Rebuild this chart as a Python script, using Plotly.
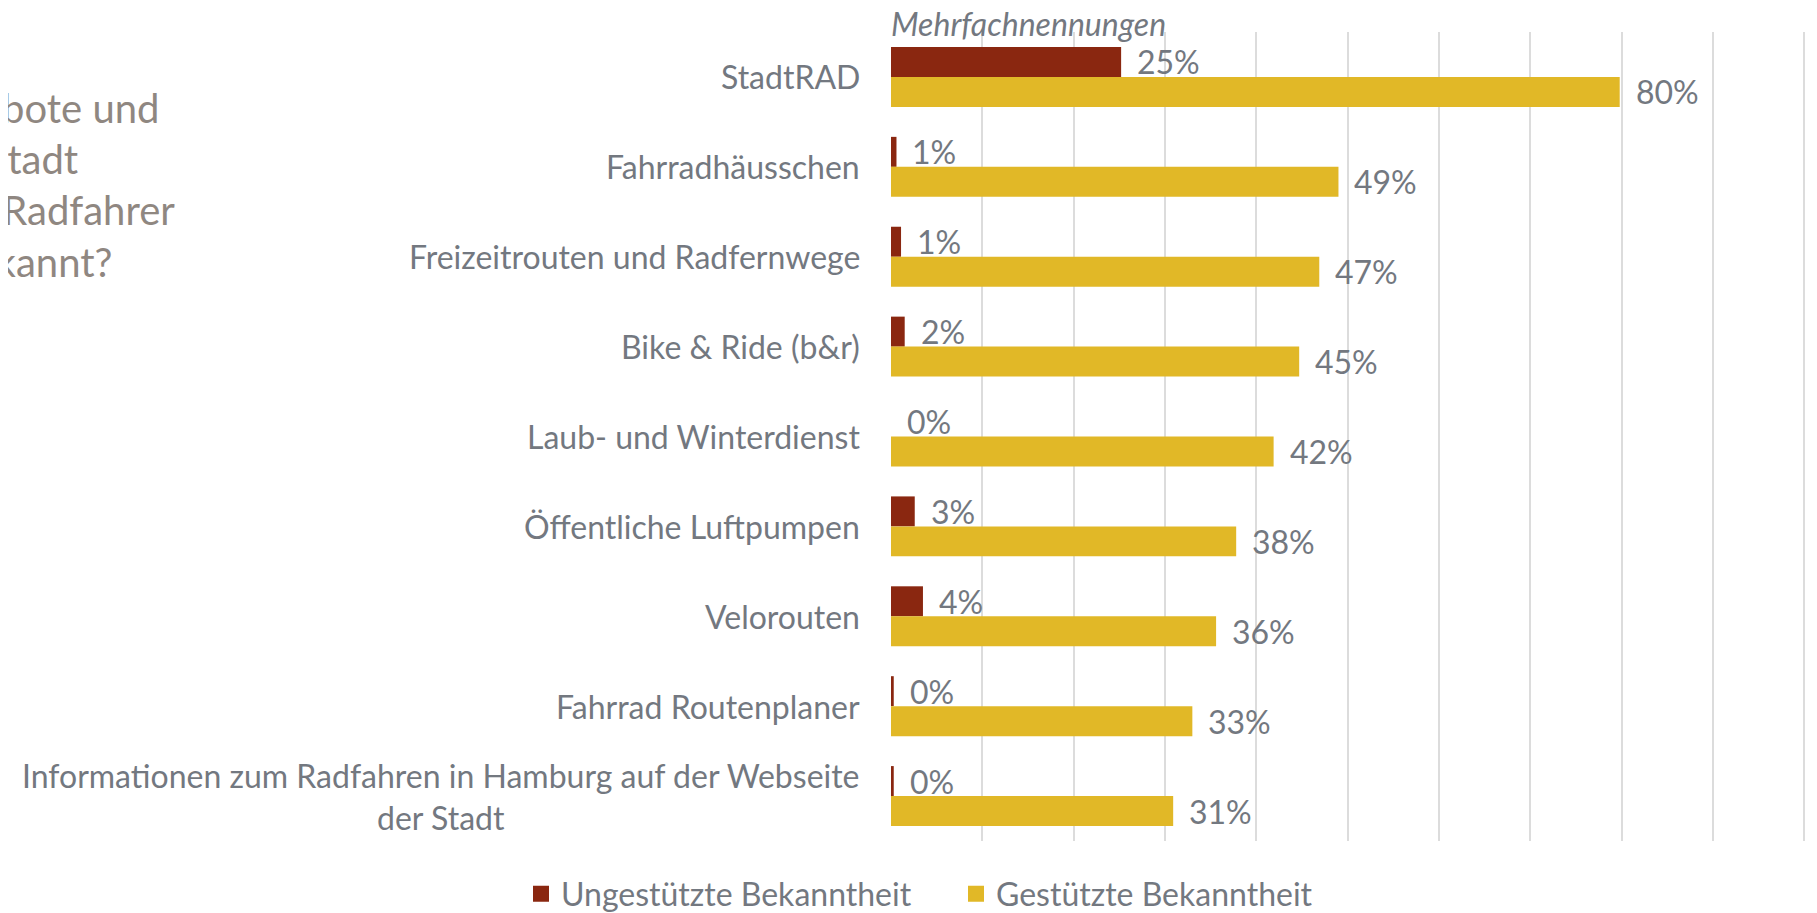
import plotly.graph_objects as go

categories = [
    "StadtRAD",
    "Fahrradhäusschen",
    "Freizeitrouten und Radfernwege",
    "Bike & Ride (b&r)",
    "Laub- und Winterdienst",
    "Öffentliche Luftpumpen",
    "Velorouten",
    "Fahrrad Routenplaner",
    "Informationen zum Radfahren in Hamburg auf der Webseite<br>der Stadt",
]
ungestuetzt = [25.2, 0.6, 1.1, 1.5, 0.0, 2.6, 3.5, 0.3, 0.3]
gestuetzt = [79.8, 49.0, 46.9, 44.7, 41.9, 37.8, 35.6, 33.0, 30.9]
series_names = ["Ungestützte Bekanntheit", "Gestützte Bekanntheit"]
title_lines = ["Welche Angebote und", "Services der Stadt", "für Radfahrer", "sind Ihnen bekannt?"]
note = "Mehrfachnennungen"

RED = "#8a2710"
YEL = "#e1b827"
LABEL = "#737880"
TITLE = "#8f8781"
FONT = "Lato"
FS = 32

# page has an 8px body margin; figure is sized to fit inside the window
W, H = 1801, 905
ML, MR, MT, MB = 883, 3, 24, 72
PW = W - ML - MR
PH = H - MT - MB

fig = go.Figure()
fig.add_trace(go.Bar(y=categories, x=ungestuetzt, orientation="h", name=series_names[0],
                     marker=dict(color=RED, line=dict(width=0)), showlegend=False))
fig.add_trace(go.Bar(y=categories, x=gestuetzt, orientation="h", name=series_names[1],
                     marker=dict(color=YEL, line=dict(width=0)), showlegend=False))
for nm, col in zip(series_names, [RED, YEL]):
    fig.add_trace(go.Scatter(x=[None], y=[None], mode="markers", name=nm,
                             marker=dict(symbol="square", size=17, color=col, line=dict(width=0))))

ann = []
for cat, v in zip(categories, ungestuetzt):
    ann.append(dict(x=v, y=cat, xref="x", yref="y", text=f"{round(v):.0f}%", showarrow=False,
                    xanchor="left", yanchor="middle", xshift=14, yshift=15,
                    font=dict(family=FONT, size=FS, color=LABEL)))
for cat, v in zip(categories, gestuetzt):
    ann.append(dict(x=v, y=cat, xref="x", yref="y", text=f"{round(v):.0f}%", showarrow=False,
                    xanchor="left", yanchor="middle", xshift=14, yshift=-15,
                    font=dict(family=FONT, size=FS, color=LABEL)))
for cat in categories:
    ann.append(dict(x=0, y=cat, xref="paper", yref="y", text=cat, showarrow=False,
                    xanchor="right", yanchor="middle", xshift=-29, align="center",
                    font=dict(family=FONT, size=FS, color=LABEL)))
ann.append(dict(x=0, y=(H - MB - 15) / PH, xref="paper", yref="paper", text=f"<i>{note}</i>",
                showarrow=False, xanchor="left", yanchor="middle", xshift=-2,
                font=dict(family=FONT, size=FS, color=LABEL)))
title_right = [153, 72, 169, 106]
title_y = [100, 151, 202, 254]
for line, rx, py in zip(title_lines, title_right, title_y):
    ann.append(dict(x=(rx - ML) / PW, y=(H - MB - py) / PH, xref="paper", yref="paper",
                    text=line, showarrow=False, xanchor="right", yanchor="middle",
                    font=dict(family=FONT, size=40, color=TITLE)))

fig.update_layout(
    width=W, height=H,
    margin=dict(l=ML, r=MR, t=MT, b=MB, pad=0),
    paper_bgcolor="white", plot_bgcolor="white",
    barmode="group", bargap=0.333, bargroupgap=0,
    font=dict(family=FONT, size=FS, color=LABEL),
    xaxis=dict(range=[0, 100.2], dtick=10, showgrid=True, gridcolor="#dcdcdc", gridwidth=1.5,
               showticklabels=False, zeroline=False, showline=False, ticks=""),
    yaxis=dict(autorange="reversed", showticklabels=False, showgrid=False, zeroline=False,
               showline=False, ticks=""),
    showlegend=True,
    legend=dict(orientation="h", xref="container", yref="container",
                x=513 / W, xanchor="left", y=(H - 886) / H, yanchor="middle",
                font=dict(family=FONT, size=FS, color=LABEL),
                itemwidth=30, entrywidth=390, traceorder="normal", bgcolor="rgba(0,0,0,0)"),
    annotations=ann,
)

fig.write_html("out.html")
